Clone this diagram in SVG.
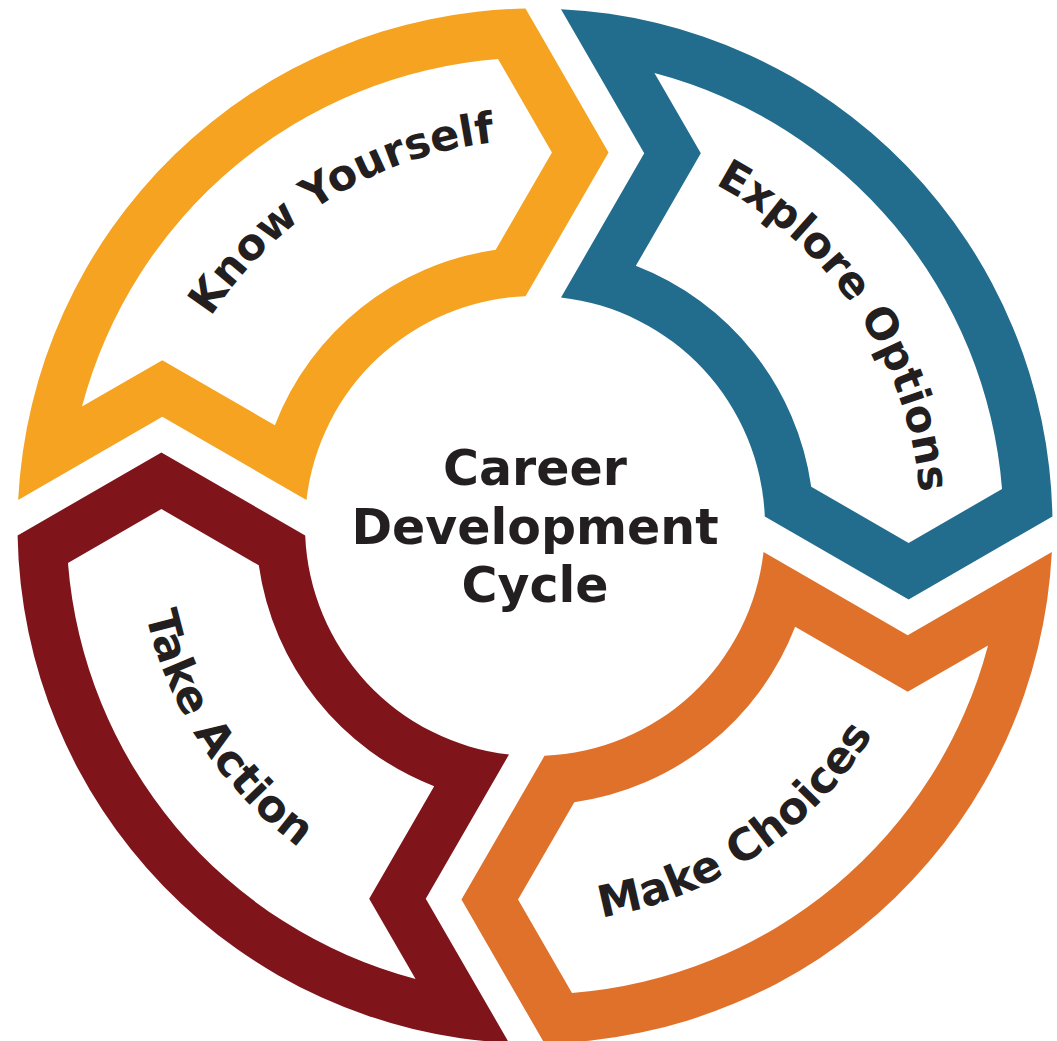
<svg xmlns="http://www.w3.org/2000/svg" xmlns:xlink="http://www.w3.org/1999/xlink" width="1057" height="1041" viewBox="0 0 1057 1041">
  <style>
    .lbl { font-family: "DejaVu Sans", "Liberation Sans", sans-serif; font-weight: bold; font-size: 43px; fill: #231F20; }
    .lbl2 { font-family: "DejaVu Sans", "Liberation Sans", sans-serif; font-weight: bold; font-size: 44px; fill: #231F20; }
    .ctr { font-family: "DejaVu Sans", "Liberation Sans", sans-serif; font-weight: bold; font-size: 49px; fill: #231F20; text-anchor: middle; }
    .seg { fill-rule: evenodd; }
  </style>
  <defs>
    <path id="segshape" d="M -516.85 -26 A 517.5 517.5 0 0 1 -9.5 -517.41 L 73.53 -373.61 L -9.5 -229.8 A 230 230 0 0 0 -228.53 -26 L -372.69 -109.23 Z M -453.02 -119.43 A 468.5 468.5 0 0 1 -36.99 -467.04 L 16.95 -373.61 L -39.28 -276.22 A 279 279 0 0 0 -260.14 -100.83 L -372.69 -165.81 Z"/>
    <path id="p-know" d="M 175.79 666.96 A 386 386 0 0 1 822.92 268.87"/>
    <path id="p-explore" d="M 380.24 172.37 A 386 386 0 0 1 801.01 805.75"/>
    <path id="p-make" d="M 249.42 801.78 A 397 397 0 0 0 897.68 364.52"/>
    <path id="p-take" d="M 259.99 235.13 A 400 400 0 0 0 692.33 893.03"/>
  </defs>
  <rect width="1057" height="1041" fill="#FFFFFF"/>
  <g id="know-yourself">
    <use xlink:href="#segshape" class="seg" fill="#F5A320" transform="translate(535 526)"/>
    <text class="lbl"><textPath xlink:href="#p-know" startOffset="50%" text-anchor="middle">Know Yourself</textPath></text>
  </g>
  <g id="explore-options">
    <use xlink:href="#segshape" class="seg" fill="#226C8E" transform="translate(535 526) rotate(90)"/>
    <text class="lbl"><textPath xlink:href="#p-explore" startOffset="50%" text-anchor="middle">Explore Options</textPath></text>
  </g>
  <g id="make-choices">
    <use xlink:href="#segshape" class="seg" fill="#DF712A" transform="translate(535 526) rotate(180)"/>
    <text class="lbl2"><textPath xlink:href="#p-make" startOffset="50%" text-anchor="middle">Make Choices</textPath></text>
  </g>
  <g id="take-action">
    <use xlink:href="#segshape" class="seg" fill="#7F141B" transform="translate(535 526) rotate(270)"/>
    <text class="lbl2"><textPath xlink:href="#p-take" startOffset="50%" text-anchor="middle">Take Action</textPath></text>
  </g>
  <g id="center">
    <text class="ctr" x="535" y="485">Career</text>
    <text class="ctr" x="535" y="543.5">Development</text>
    <text class="ctr" x="535" y="602">Cycle</text>
  </g>
  <g id="connectors"></g>
</svg>
